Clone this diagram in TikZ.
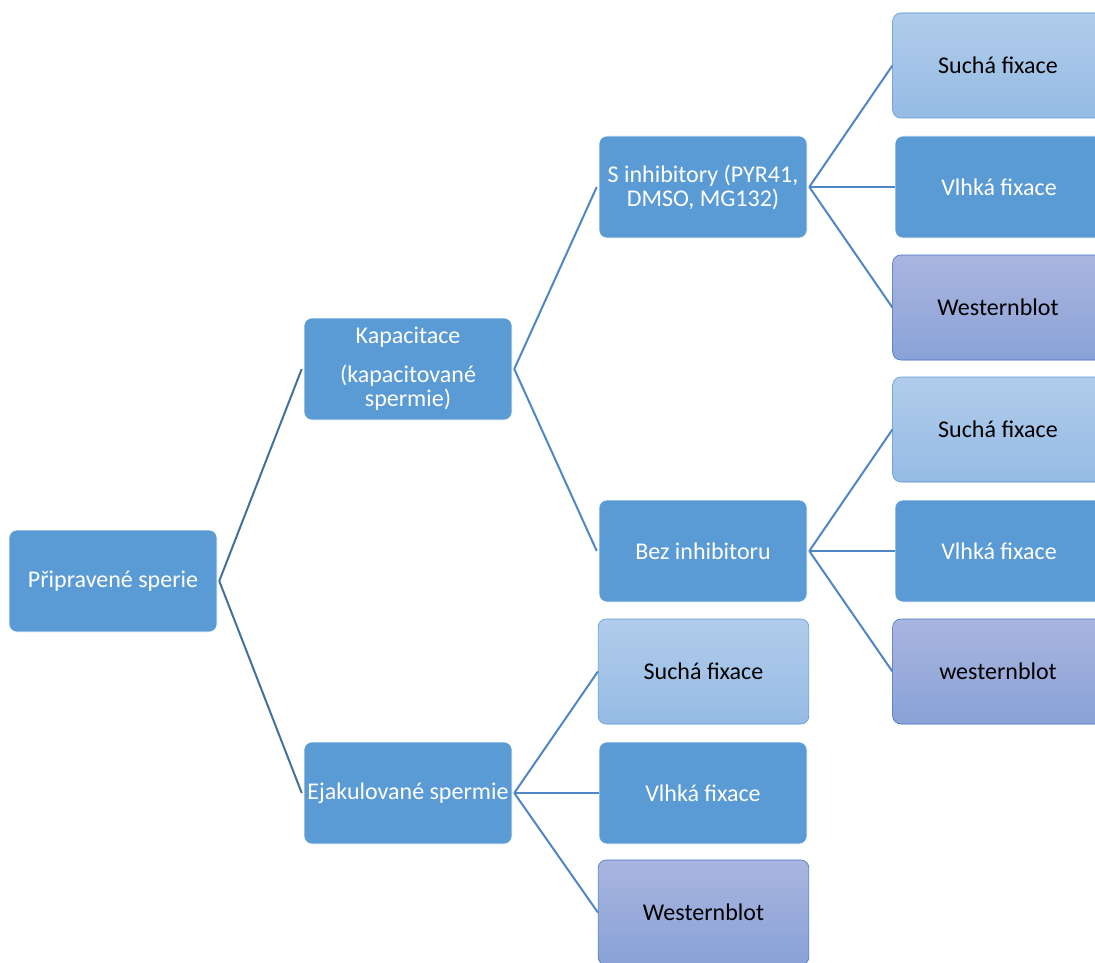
\documentclass[tikz,border=0pt]{standalone}
\usepackage{fontspec}
\setmainfont{Carlito}
\definecolor{boxblue}{HTML}{5B9BD5}
\definecolor{lineblue}{HTML}{4F86C6}
\definecolor{darkline}{HTML}{41719C}
\definecolor{drytop}{HTML}{B1CCEB}
\definecolor{drybot}{HTML}{95BBE4}
\definecolor{blottop}{HTML}{A9B5DF}
\definecolor{blotbot}{HTML}{8AA2D7}
\definecolor{blotline}{HTML}{4472C4}
\tikzset{
  darkbox/.style={rounded corners=6pt, fill=boxblue, draw=white, text=white,
    minimum width=156pt, minimum height=76.5pt, align=center, inner sep=2pt,
    font=\fontsize{18}{18}\selectfont},
  drybox/.style={darkbox, draw=boxblue, text=black, top color=drytop,
    bottom color=drybot, minimum width=158pt, minimum height=78.75pt},
  blotbox/.style={drybox, draw=blotline, top color=blottop, bottom color=blotbot},
  link/.style={draw=lineblue, line width=1.5pt},
  rootlink/.style={link, draw=darkline}
}

\begin{document}
\begin{tikzpicture}[x=0.75pt, y=-0.75pt]
\clip (0,0) rectangle (1095,963);

\node[darkbox] (root) at (113,581) {Připravené sperie};

\node[darkbox] (kap) at (408,369) {Kapacitace\\[11pt](kapacitované\\spermie)};
\node[darkbox] (ejak) at (408,793) {Ejakulované spermie};

\node[darkbox] (inh) at (703,187) {S inhibitory (PYR41,\\DMSO, MG132)};
\node[darkbox] (bez) at (703,551) {Bez inhibitoru};

\node[drybox] (ejdry) at (703.5,671.5) {Suchá fixace};
\node[darkbox] (ejwet) at (703,793) {Vlhká fixace};
\node[blotbox] (ejblot) at (703.5,912.5) {Westernblot};

\node[drybox] (indry) at (998,65.5) {Suchá fixace};
\node[darkbox] (inwet) at (999,187) {Vlhká fixace};
\node[blotbox] (inblot) at (998,307.5) {Westernblot};

\node[drybox] (bzdry) at (998,429.5) {Suchá fixace};
\node[darkbox] (bzwet) at (999,551) {Vlhká fixace};
\node[blotbox] (bzblot) at (998,671.5) {westernblot};

\draw[rootlink] ([xshift=1.5pt]root.east) -- ([xshift=-1.5pt]kap.west);
\draw[rootlink] ([xshift=1.5pt]root.east) -- ([xshift=-1.5pt]ejak.west);

\draw[link] ([xshift=1.5pt]kap.east) -- ([xshift=-1.5pt]inh.west);
\draw[link] ([xshift=1.5pt]kap.east) -- ([xshift=-1.5pt]bez.west);

\draw[link] ([xshift=1.5pt]ejak.east) -- (ejdry.west);
\draw[link] ([xshift=1.5pt]ejak.east) -- (ejwet.west);
\draw[link] ([xshift=1.5pt]ejak.east) -- (ejblot.west);

\draw[link] ([xshift=1.5pt]inh.east) -- (indry.west);
\draw[link] ([xshift=1.5pt]inh.east) -- (inwet.west);
\draw[link] ([xshift=1.5pt]inh.east) -- (inblot.west);

\draw[link] ([xshift=1.5pt]bez.east) -- (bzdry.west);
\draw[link] ([xshift=1.5pt]bez.east) -- (bzwet.west);
\draw[link] ([xshift=1.5pt]bez.east) -- (bzblot.west);
\end{tikzpicture}
\end{document}
